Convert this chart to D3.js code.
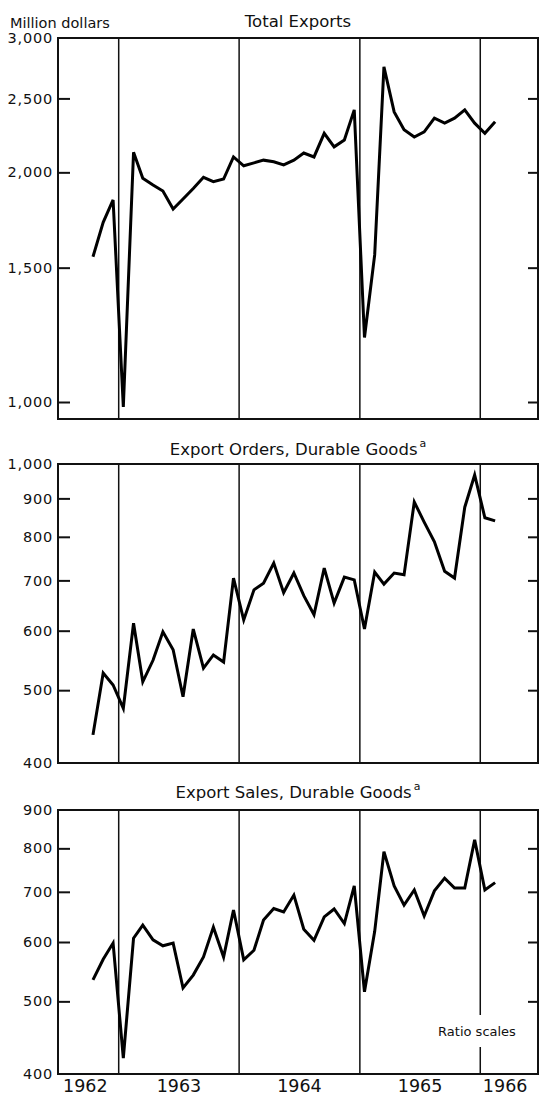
<!DOCTYPE html>
<html>
<head>
<meta charset="utf-8">
<script src="https://cdn.jsdelivr.net/npm/d3@7"></script>
<style>
  html, body { margin: 0; padding: 0; background: #fff; }
  svg { display: block; font-family: "DejaVu Sans", sans-serif; }
</style>
</head>
<body>
<svg id="chart" width="539" height="1097"></svg>
<script>
// monthly values, Oct 1962 .. Feb 1966 (million dollars)
var totalExports = [1550, 1720, 1840,
	985, 2125, 1965, 1925, 1890, 1790, 1845, 1905, 1970, 1945, 1960, 2095,
	2040, 2058, 2075, 2065, 2045, 2075, 2120, 2095, 2250, 2160, 2205, 2415,
	1215, 1560, 2750, 2400, 2275, 2225, 2260, 2355, 2320, 2355, 2415, 2320,
	2250, 2330];

var exportOrders = [436, 527, 508,
	473, 614, 513, 548, 598, 566, 490, 603, 535, 557, 545, 705,
	620, 680, 694, 738, 674, 716, 668, 630, 727, 653, 707, 701,
	603, 718, 692, 716, 712, 890, 837, 788, 720, 705, 876, 967,
	848, 840];

var exportSales = [534, 569, 598,
	420, 607, 632, 604, 593, 598, 521, 542, 573, 628, 573, 662,
	568, 585, 642, 665, 658, 693, 624, 603, 648, 664, 635, 713,
	515, 620, 792, 713, 672, 704, 650, 702, 730, 708, 708, 821,
	704, 720];

var years        = [1962, 1963, 1964, 1965, 1966];
var totalTicks   = [1000, 1500, 2000, 2500, 3000];
var ordersTicks  = [400, 500, 600, 700, 800, 900, 1000];
var salesTicks   = [400, 500, 600, 700, 800, 900];

var months = d3.timeMonth.range(new Date(1962, 9, 1), new Date(1966, 2, 1))
	.map(function (m) { return d3.timeDay.offset(m, 14); });

var svg = d3.select('#chart');
var left = 58, right = 538;

var x = d3.scaleTime()
	.domain([new Date(1962, 6, 1), new Date(1966, 5, 25)])
	.range([left, right]);

var panels = [
	{ title: 'Total Exports', sup: false, values: totalExports, ticks: totalTicks,
	  domain: [950, 3000], top: 38, bottom: 419, titleY: 27 },
	{ title: 'Export Orders, Durable Goods', sup: true, values: exportOrders, ticks: ordersTicks,
	  domain: [400, 1000], top: 464, bottom: 763, titleY: 455 },
	{ title: 'Export Sales, Durable Goods', sup: true, values: exportSales, ticks: salesTicks,
	  domain: [400, 900], top: 810, bottom: 1074, titleY: 798 }
];

var line = d3.line()
	.x(function (d) { return x(d.date); })
	.y(function (d) { return d.y; });

panels.forEach(function (p, pi)
{
	var y = d3.scaleLog().domain(p.domain).range([p.bottom, p.top]);
	var g = svg.append('g');

	// year boundaries
	g.selectAll('line.yr')
		.data(years.slice(1))
		.enter().append('line')
		.attr('class', 'yr')
		.attr('x1', function (d) { return x(new Date(d, 0, 1)); })
		.attr('x2', function (d) { return x(new Date(d, 0, 1)); })
		.attr('y1', p.top).attr('y2', p.bottom)
		.attr('stroke', '#111').attr('stroke-width', 1.5);

	// left axis with inward ticks
	var ax = g.append('g')
		.attr('transform', 'translate(' + left + ',0)')
		.call(d3.axisLeft(y).tickValues(p.ticks).tickSize(-12).tickPadding(5).tickFormat(d3.format(',')));
	ax.select('.domain').remove();
	ax.selectAll('.tick line')
		.attr('stroke', '#111').attr('stroke-width', 2)
		.attr('display', function (d) { return (d <= p.domain[0] || d >= p.domain[1]) ? 'none' : null; });
	ax.selectAll('.tick text')
		.attr('fill', '#111').attr('font-size', 14.5)
		.attr('letter-spacing', 0.8)
		.attr('font-family', '"DejaVu Sans", sans-serif');

	// right axis, ticks only
	var ar = g.append('g')
		.attr('transform', 'translate(' + right + ',0)')
		.call(d3.axisRight(y).tickValues(p.ticks.filter(function (d) { return d > p.domain[0] && d < p.domain[1]; }))
			.tickSize(-10).tickFormat(''));
	ar.select('.domain').remove();
	ar.selectAll('.tick line').attr('stroke', '#111').attr('stroke-width', 2);

	// frame
	g.append('rect')
		.attr('x', left).attr('y', p.top)
		.attr('width', right - left).attr('height', p.bottom - p.top)
		.attr('fill', 'none').attr('stroke', '#111').attr('stroke-width', 2);

	// series
	var pts = p.values.map(function (v, i) { return { date: months[i], y: y(v) }; });
	g.append('path')
		.datum(pts)
		.attr('d', line)
		.attr('fill', 'none')
		.attr('stroke', '#000')
		.attr('stroke-width', 3)
		.attr('stroke-linejoin', 'miter');

	// title
	var t = g.append('text')
		.attr('x', (left + right) / 2)
		.attr('y', p.titleY)
		.attr('text-anchor', 'middle')
		.attr('font-size', 16.5)
		.attr('fill', '#111');
	t.append('tspan').text(p.title);
	if (p.sup)
	{
		t.append('tspan').attr('dx', 2).attr('dy', -8).attr('font-size', 11).text('a');
	}
});

svg.append('text')
	.attr('x', 10).attr('y', 28)
	.attr('font-size', 14.5)
	.attr('fill', '#111')
	.text('Million dollars');

// year labels, centred in the visible part of each year
var xd = x.domain();
svg.append('g').selectAll('text')
	.data(years)
	.enter().append('text')
	.attr('x', function (d)
	{
		var a = Math.max(+new Date(d, 0, 1), +xd[0]);
		var b = Math.min(+new Date(d + 1, 0, 1), +xd[1]);
		return x(new Date((a + b) / 2)) - (d === 1962 ? 3 : d === 1966 ? 4 : 0);
	})
	.attr('y', 1092)
	.attr('text-anchor', 'middle')
	.attr('font-size', 17.5)
	.attr('fill', '#111')
	.text(function (d) { return d; });

// ratio scales note, with a gap cut in the year line behind it
svg.append('rect')
	.attr('x', 433).attr('y', 1015)
	.attr('width', 90).attr('height', 32)
	.attr('fill', '#fff');
svg.append('text')
	.attr('x', 477).attr('y', 1036)
	.attr('text-anchor', 'middle')
	.attr('font-size', 13)
	.attr('fill', '#111')
	.text('Ratio scales');
</script>
</body>
</html>
